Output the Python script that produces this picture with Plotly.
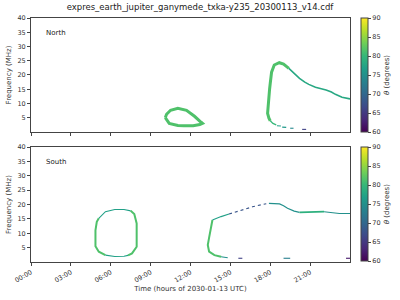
import plotly.graph_objects as go
from plotly.colors import sample_colorscale

TITLE = "expres_earth_jupiter_ganymede_txka-y235_20300113_v14.cdf"
tick_hours = [0, 3, 6, 9, 12, 15, 18, 21]
tick_labels = ["00:00", "03:00", "06:00", "09:00", "12:00", "15:00", "18:00", "21:00"]
freq_ticks = [5, 10, 15, 20, 25, 30, 35, 40]
theta_ticks = [60, 65, 70, 75, 80, 85, 90]

# North hemisphere segments
north_loop_t = [10.1, 10.2, 10.5, 11.05, 11.7, 12.3, 12.8, 12.9, 12.7, 12.2, 11.5, 11.05, 10.4, 10.2, 10.1]
north_loop_f = [5.0, 6.2, 7.6, 8.3, 7.6, 5.5, 3.4, 3.0, 2.6, 2.2, 2.2, 2.3, 3.0, 4.2, 5.0]
north_loop_th = 81.5

north_rise_t = [18.0, 17.9, 17.8, 17.85, 17.95, 18.0, 18.1, 18.3, 18.68, 19.0, 19.4]
north_rise_f = [3.9, 4.8, 6.5, 11.0, 15.0, 17.1, 21.0, 23.5, 24.3, 23.8, 22.3]
north_rise_th = 81.5

north_decay_t = [19.4, 19.8, 20.2, 20.6, 20.9, 21.4, 21.8, 22.2, 22.6, 22.9, 23.4, 24.0]
north_decay_f = [22.3, 20.5, 18.8, 17.5, 16.7, 15.7, 15.3, 14.7, 14.0, 13.2, 12.2, 11.6]
north_decay_th = 78

north_low_t = [18.0, 18.2, 18.45]
north_low_f = [3.9, 3.0, 2.5]
north_low_th = 80

north_dash = [  # (t0, t1, f0, f1, theta)
    (18.5, 18.8, 2.2, 2.1, 77),
    (18.9, 19.2, 1.7, 1.6, 76),
    (19.5, 19.75, 1.3, 1.3, 74),
    (20.4, 20.7, 0.9, 0.9, 66),
]

# South hemisphere
south_l1_t = [5.6, 5.1, 4.85, 4.83, 4.85, 4.95, 5.1]
south_l1_f = [2.4, 3.6, 5.5, 8.0, 11.0, 14.0, 15.2]
south_top_t = [5.1, 5.6, 6.3, 7.0, 7.5]
south_top_f = [15.2, 17.5, 18.3, 18.3, 17.8]
south_r1_t = [7.5, 7.77, 7.95, 7.97, 7.95, 7.6, 7.3]
south_r1_f = [17.8, 16.7, 13.4, 9.0, 5.3, 3.0, 2.3]
south_bot_t = [7.3, 7.0, 6.3, 5.6]
south_bot_f = [2.3, 2.0, 1.9, 2.4]

south_rise_t = [14.3, 13.8, 13.4, 13.3, 13.4, 13.5, 13.65]
south_rise_f = [1.85, 2.4, 3.6, 5.9, 8.5, 11.5, 14.6]
south_up_t = [13.65, 14.0, 14.3, 14.9]
south_up_f = [14.6, 15.3, 15.8, 16.7]
south_dot_t = [14.9, 15.66, 16.66, 17.4, 17.7]
south_dot_f = [16.7, 17.8, 19.2, 20.0, 20.3]
south_peak_t = [17.9, 18.7, 19.0, 19.3, 19.8, 20.2]
south_peak_f = [20.4, 20.2, 19.6, 18.7, 17.7, 17.3]
south_flat_t = [20.2, 21.2, 22.05]
south_flat_f = [17.3, 17.5, 17.5]
south_end_t = [22.05, 22.7, 23.2, 24.0]
south_end_f = [17.5, 17.1, 16.9, 16.9]

south_dash = [
    (14.3, 14.8, 1.85, 1.5, 75),
    (15.6, 15.9, 1.3, 1.3, 66),
    (19.0, 19.5, 1.3, 1.3, 73),
    (23.7, 24.0, 1.3, 1.3, 62),
]


def col(th):
    return sample_colorscale("Viridis", [(th - 60) / 30])[0]


fig = go.Figure()


def seg(t, f, th, w, row, dash="solid"):
    ax = "" if row == 1 else "2"
    fig.add_trace(go.Scatter(x=t, y=f, mode="lines", xaxis="x" + ax, yaxis="y" + ax,
                             line=dict(color=col(th), width=w, dash=dash),
                             showlegend=False, hoverinfo="skip"))


seg(north_loop_t, north_loop_f, north_loop_th, 3, 1)
seg(north_rise_t, north_rise_f, north_rise_th, 3, 1)
seg(north_decay_t, north_decay_f, north_decay_th, 1.6, 1)
seg(north_low_t, north_low_f, north_low_th, 1.3, 1)
for t0, t1, f0, f1, th in north_dash:
    seg([t0, t1], [f0, f1], th, 1.1, 1)

seg(south_l1_t, south_l1_f, 81.5, 2, 2)
seg(south_top_t, south_top_f, 77, 1.1, 2)
seg(south_r1_t, south_r1_f, 81.5, 2, 2)
seg(south_bot_t, south_bot_f, 77, 1.1, 2)
seg(south_rise_t, south_rise_f, 81.5, 2, 2)
seg(south_up_t, south_up_f, 77, 1.1, 2)
seg(south_dot_t, south_dot_f, 68, 1.1, 2, "dot")
seg(south_peak_t, south_peak_f, 75, 1.2, 2)
seg(south_flat_t, south_flat_f, 79, 1.8, 2)
seg(south_end_t, south_end_f, 75, 1.1, 2)
for t0, t1, f0, f1, th in south_dash:
    seg([t0, t1], [f0, f1], th, 1.1, 2)

# dummy traces for colorbars
for ca, ax in (("coloraxis", ""), ("coloraxis2", "2")):
    fig.add_trace(go.Scatter(x=[-5], y=[-5], mode="markers", xaxis="x" + ax, yaxis="y" + ax,
                             marker=dict(color=[75], coloraxis=ca, size=1),
                             showlegend=False, hoverinfo="skip"))

FONT = "DejaVu Sans"
axcommon = dict(showline=True, mirror=True, linecolor="#444", linewidth=1,
                ticks="outside", ticklen=3, tickcolor="#444", showgrid=False,
                zeroline=False, tickfont=dict(size=6.5, color="#333"))

cb_common = dict(thickness=7, x=1.034, xanchor="left", xpad=0, ypad=0,
                 lenmode="fraction", len=0.469,
                 yanchor="top", outlinewidth=1, outlinecolor="#444",
                 ticks="outside", ticklen=3, tickvals=theta_ticks,
                 tickfont=dict(size=6.5, color="#333"),
                 title=dict(text="<i>θ</i> (degrees)", side="right", font=dict(size=7, color="#333")))

fig.update_layout(
    width=400, height=300,
    margin=dict(l=31, r=50, t=18, b=38, autoexpand=False),
    paper_bgcolor="white", plot_bgcolor="white",
    font=dict(family=FONT, size=7, color="#333"),
    title=dict(text=TITLE, x=0.5, xanchor="center", y=0.985, yanchor="top",
               font=dict(size=8.5, color="#222")),
    xaxis=dict(domain=[0, 1], range=[0, 24], anchor="y", tickvals=tick_hours,
               showticklabels=False, **axcommon),
    yaxis=dict(domain=[0.533, 1.0], range=[0, 40], anchor="x", tickvals=freq_ticks,
               title=dict(text="Frequency (MHz)", font=dict(size=7), standoff=4), **axcommon),
    xaxis2=dict(domain=[0, 1], range=[0, 24], anchor="y2", tickvals=tick_hours,
                ticktext=tick_labels, tickangle=-30,
                title=dict(text="Time (hours of 2030-01-13 UTC)", font=dict(size=7), standoff=2),
                **axcommon),
    yaxis2=dict(domain=[0, 0.471], range=[0, 40], anchor="x2", tickvals=freq_ticks,
                title=dict(text="Frequency (MHz)", font=dict(size=7), standoff=4), **axcommon),
    coloraxis=dict(colorscale="Viridis", cmin=60, cmax=90,
                   colorbar=dict(y=1.0, **cb_common)),
    coloraxis2=dict(colorscale="Viridis", cmin=60, cmax=90,
                    colorbar=dict(y=0.471, **cb_common)),
    annotations=[
        dict(text="North", x=0.04, y=0.965, xref="paper", yref="paper", showarrow=False,
             xanchor="left", yanchor="top", font=dict(size=7, color="#222")),
        dict(text="South", x=0.04, y=0.436, xref="paper", yref="paper", showarrow=False,
             xanchor="left", yanchor="top", font=dict(size=7, color="#222")),
    ],
)

fig.write_html("out.html")
